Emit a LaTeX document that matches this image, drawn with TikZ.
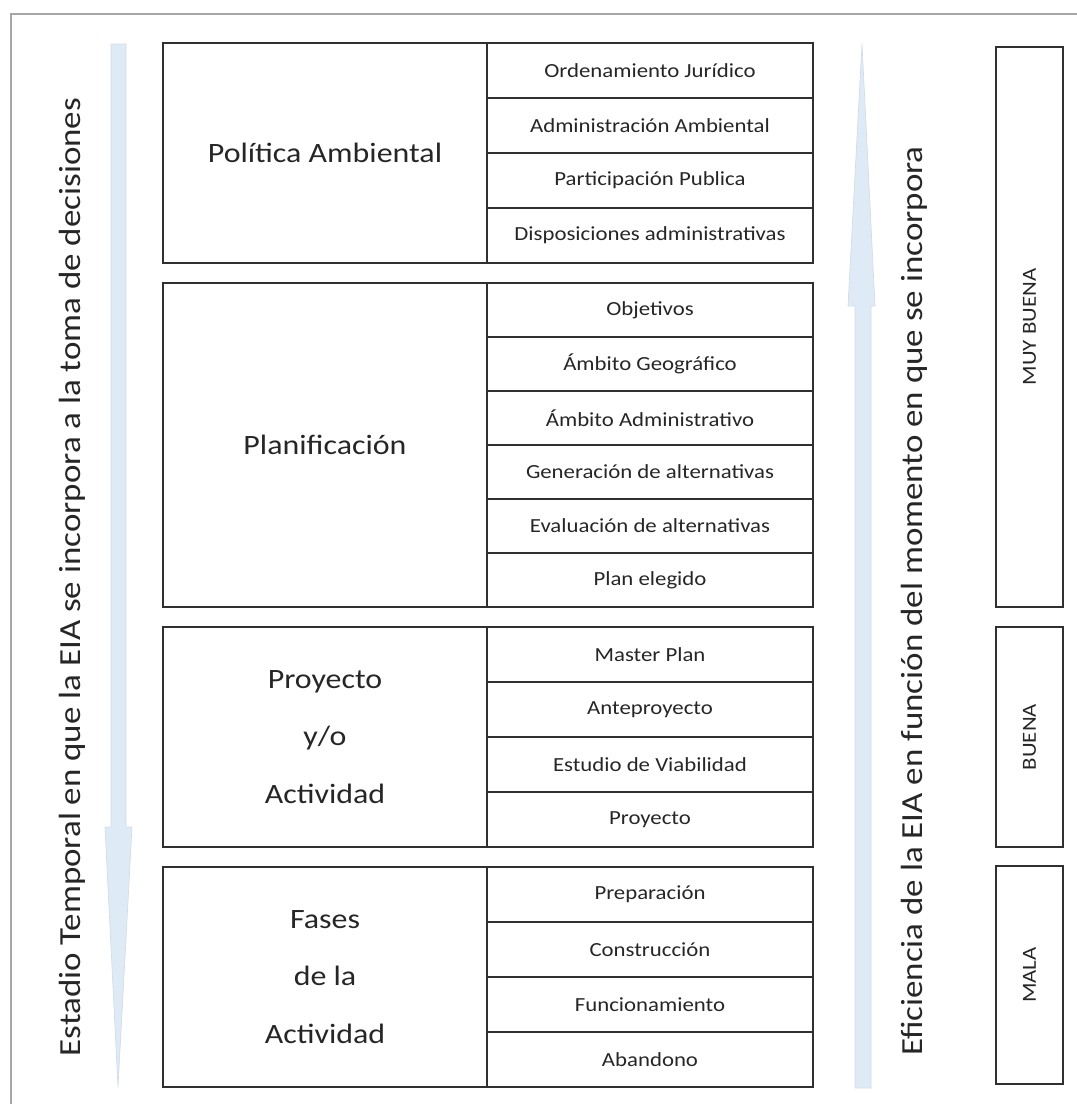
\documentclass[tikz,border=0pt]{standalone}
\usepackage{fontspec}
\setmainfont{Carlito}[FakeStretch=1.14]
\definecolor{flecha}{HTML}{DEEAF6}
\definecolor{flechaborde}{HTML}{D2DCE6}
\definecolor{linea}{HTML}{303030}
\definecolor{texto}{HTML}{262626}
\begin{document}
\begin{tikzpicture}[x=0.75pt,y=-0.75pt,
    caja/.style={draw=linea, line width=1pt, text=texto, inner sep=0pt, align=center},
    etapa/.style={caja, minimum width=243pt, font=\fontsize{21}{43}\selectfont},
    celda/.style={caja, minimum width=244.5pt, minimum height=41.25pt, font=\fontsize{15}{18}\selectfont},
    celdap/.style={celda, minimum height=40.5pt},
    nivel/.style={caja, rotate=90, minimum height=50.25pt, font=\fontsize{15}{18}\selectfont},
    flechabox/.style={fill=flecha, draw=flechaborde, line width=0.5pt},
    eje/.style={text=texto, rotate=90, font=\fontsize{23}{28}\selectfont},
]

\useasboundingbox (0,0) rectangle (1077,1104);
\draw[gray!70, line width=0.8pt] (11,1104) -- (11,14) -- (1077,14);

\draw[flechabox] (111,44) -- (126,44) -- (126,827) -- (132,827) -- (118,1087)
    -- (105,827) -- (111,827) -- cycle;
\draw[flechabox] (862,44) -- (875,306) -- (871,306) -- (871,1088) -- (855,1088)
    -- (855,306) -- (848,306) -- cycle;

\node[eje] (tiempo) at (72,577) {Estadio Temporal en que la EIA se incorpora a la toma de decisiones};
\node[eje] (eficiencia) at (914,601) {Eficiencia de la EIA en función del momento en que se incorpora};

\node[etapa, minimum height=165pt] (politica) at (325,153) {Política Ambiental};
\node[celda] (p1) at (650,70.5) {Ordenamiento Jurídico};
\node[celda] (p2) at (650,125.5) {Administración Ambiental};
\node[celda] (p3) at (650,180.5) {Participación Publica};
\node[celda] (p4) at (650,235.5) {Disposiciones administrativas};

\node[etapa, minimum height=243pt] (planif) at (325,445) {Planificación};
\node[celdap] (q1) at (650,310) {Objetivos};
\node[celdap] (q2) at (650,364) {Ámbito Geográfico};
\node[celdap] (q3) at (650,418) {Ámbito Administrativo};
\node[celdap] (q4) at (650,472) {Generación de alternativas};
\node[celdap] (q5) at (650,526) {Evaluación de alternativas};
\node[celdap] (q6) at (650,580) {Plan elegido};

\node[etapa, minimum height=165pt] (proyecto) at (325,737) {Proyecto\\y/o\\Actividad};
\node[celda] (r1) at (650,654.5) {Master Plan};
\node[celda] (r2) at (650,709.5) {Anteproyecto};
\node[celda] (r3) at (650,764.5) {Estudio de Viabilidad};
\node[celda] (r4) at (650,819.5) {Proyecto};

\node[etapa, minimum height=165pt] (fases) at (325,977) {Fases\\de la\\Actividad};
\node[celda] (s1) at (650,894.5) {Preparación};
\node[celda] (s2) at (650,949.5) {Construcción};
\node[celda] (s3) at (650,1004.5) {Funcionamiento};
\node[celda] (s4) at (650,1059.5) {Abandono};

\node[nivel, minimum width=420pt] (muybuena) at (1029.5,327) {MUY BUENA};
\node[nivel, minimum width=165pt] (buena) at (1029.5,737) {BUENA};
\node[nivel, minimum width=163.5pt] (mala) at (1029.5,975) {MALA};

\end{tikzpicture}
\end{document}
